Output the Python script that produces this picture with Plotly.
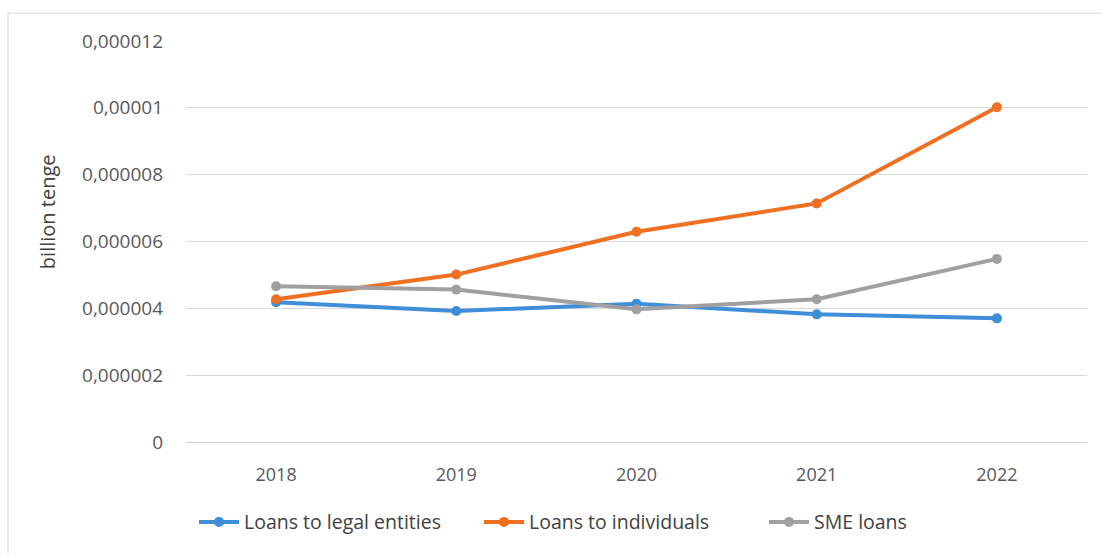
import plotly.graph_objects as go

years = ["2018", "2019", "2020", "2021", "2022"]
legal_entities = [4.18e-6, 3.92e-6, 4.14e-6, 3.82e-6, 3.70e-6]
individuals = [4.27e-6, 5.01e-6, 6.29e-6, 7.14e-6, 10.02e-6]
sme = [4.66e-6, 4.56e-6, 3.97e-6, 4.27e-6, 5.48e-6]

series_names = ["Loans to legal entities", "Loans to individuals", "SME loans"]
colors = ["#3E8ED8", "#EF7021", "#A0A0A0"]

ytick_vals = [0, 2e-6, 4e-6, 6e-6, 8e-6, 10e-6, 12e-6]
ytick_text = ["0", "0,000002", "0,000004", "0,000006", "0,000008", "0,00001", "0,000012"]

fig = go.Figure()
for name, vals, col in zip(series_names, [legal_entities, individuals, sme], colors):
    fig.add_trace(go.Scatter(
        x=years, y=vals, name=name, mode="lines+markers",
        line=dict(color=col, width=4),
        marker=dict(color=col, size=10),
    ))

font_family = "Open Sans, DejaVu Sans, sans-serif"
fig.update_layout(
    width=1102, height=554,
    margin=dict(l=186, r=15, t=41, b=110),
    paper_bgcolor="white", plot_bgcolor="white",
    font=dict(family=font_family, size=18, color="#595959"),
    showlegend=True,
    legend=dict(orientation="h", x=(194 - 186) / 901, xanchor="left", y=-0.2, yanchor="middle",
                font=dict(size=19.5, color="#404040"), itemwidth=40, tracegroupgap=0,
                entrywidth=230, entrywidthmode="pixels"),
    xaxis=dict(type="category", range=[-0.5, 4.5], showgrid=False, showline=False, ticks="",
               ticklabelstandoff=20, tickfont=dict(size=18, color="#595959")),
    yaxis=dict(range=[0, 12e-6], tickvals=ytick_vals, ticktext=ytick_text,
               showgrid=True, gridcolor="#D9D9D9", gridwidth=1,
               zeroline=True, zerolinecolor="#D0D0D0", zerolinewidth=1,
               showline=False, ticks="", ticklabelstandoff=22,
               tickfont=dict(size=19, color="#595959")),
    annotations=[dict(text="billion tenge", textangle=-90, xref="paper", yref="paper",
                      x=(47 - 186) / 901, y=(444 - 213) / 403, showarrow=False,
                      xanchor="center", yanchor="middle",
                      font=dict(size=20, color="#404040"))],
    shapes=[
        dict(type="line", xref="paper", yref="paper", x0=(8 - 186) / 901, x1=1.02,
             y0=(444 - 13) / 403, y1=(444 - 13) / 403, line=dict(color="#D9D9D9", width=1)),
        dict(type="line", xref="paper", yref="paper", x0=(8 - 186) / 901, x1=(8 - 186) / 901,
             y0=(444 - 13) / 403, y1=-0.3, line=dict(color="#D9D9D9", width=1)),
    ],
)

fig.write_html("out.html")
